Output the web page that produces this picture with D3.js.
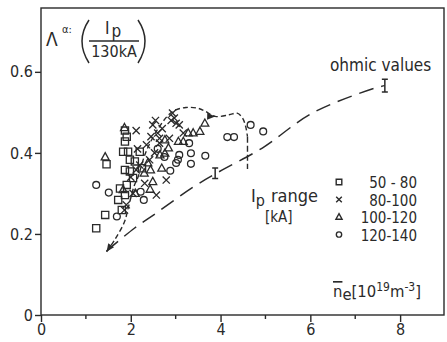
<!DOCTYPE html>
<html>
<head>
<meta charset="utf-8">
<script src="https://cdn.jsdelivr.net/npm/d3@7"></script>
<style>
  body { margin: 0; background: #fff; }
  svg { display: block; }
  text { font-family: "DejaVu Sans Condensed", "DejaVu Sans", sans-serif; fill: #2a2a2a; }
  .axis path, .axis line { stroke: #2a2a2a; stroke-width: 1.4; }
  .axis text { font-size: 16px; }
</style>
</head>
<body>
<svg width="447" height="342"></svg>
<script>
// Ip ranges [kA]
var ranges = ["50 - 80", "80-100", "100-120", "120-140"];

// points: [ne, lambda]
var sq = [[1.23,0.214],[1.43,0.247],[1.46,0.372],[1.72,0.284],[1.80,0.259],[1.87,0.296],[1.91,0.321],
          [1.87,0.358],[1.98,0.354],[1.98,0.383],[2.09,0.379],[1.83,0.403],[1.94,0.403],[2.20,0.403],
          [1.87,0.428],[1.91,0.440],[1.87,0.455],[1.76,0.312],[2.05,0.338],[2.25,0.362]];
var xs = [[2.12,0.455],[2.49,0.469],[2.55,0.480],[2.60,0.449],[2.64,0.436],[2.86,0.436],[2.93,0.498],
          [2.97,0.486],[2.90,0.480],[3.01,0.473],[3.08,0.469],[3.17,0.449],[2.64,0.424],[2.53,0.400],
          [2.42,0.383],[2.35,0.420],[2.45,0.440],[2.20,0.370],[2.12,0.358],[2.31,0.325],[2.57,0.296],
          [2.79,0.333],[1.90,0.272],[1.86,0.259],[2.05,0.300],[2.70,0.460],[2.15,0.410],[2.0,0.340]];
var tri = [[1.43,0.390],[1.86,0.462],[1.83,0.309],[2.38,0.375],[2.44,0.358],[2.49,0.329],[2.43,0.310],
           [2.69,0.362],[2.65,0.395],[2.76,0.399],[2.84,0.412],[3.06,0.428],[3.17,0.428],[3.28,0.449],
           [3.39,0.449],[3.54,0.453],[3.65,0.473],[2.76,0.432],[2.10,0.300],[2.30,0.350]];
var circ = [[1.23,0.321],[1.51,0.302],[1.69,0.243],[2.22,0.304],[2.29,0.284],[2.88,0.356],[3.01,0.375],
            [3.05,0.383],[3.08,0.395],[3.34,0.373],[3.34,0.399],[3.66,0.393],[3.30,0.424],[2.60,0.410],
            [2.75,0.390],[4.15,0.439],[4.30,0.439],[4.67,0.469],[4.95,0.453]];

// dashed trajectory through the data and the ohmic line
var traj = [[1.46,0.156],[1.64,0.185],[1.86,0.230],[1.94,0.263],[2.08,0.320],[2.16,0.340],[2.34,0.403],
            [2.64,0.465],[2.93,0.502],[3.23,0.512],[3.50,0.510],[3.67,0.502],[3.88,0.490],[4.19,0.494],
            [4.37,0.498],[4.49,0.486],[4.56,0.465],[4.60,0.440]];
var trajDrop = [[4.60,0.440],[4.60,0.360]];
var ohmic = [[1.46,0.158],[2.08,0.214],[2.56,0.251],[3.41,0.317],[4.04,0.358],[4.93,0.412],
             [6.04,0.498],[7.44,0.560],[7.66,0.566]];
var errBars = [[3.88,0.350,0.013],[7.66,0.566,0.016]];

var xTicks = [0, 2, 4, 6, 8], xMinor = [1, 3, 5, 7];
var yTicks = [0, 0.2, 0.4, 0.6];

var svg = d3.select("svg");
var x = d3.scaleLinear().domain([0, 9]).range([41, 445]);
var y = d3.scaleLinear().domain([0, 0.76]).range([315, 7]);
var ink = "#2a2a2a";

// frame
svg.append("rect").attr("x", 41).attr("y", 8).attr("width", 403).attr("height", 307)
   .attr("fill", "none").attr("stroke", ink).attr("stroke-width", 1.4);

var gx = svg.append("g").attr("class", "axis").attr("transform", "translate(0,315)")
   .call(d3.axisBottom(x).tickValues(xTicks).tickSize(7).tickPadding(2).tickFormat(d3.format("d")));
gx.select(".domain").remove();
svg.append("g").attr("transform", "translate(0,315)").selectAll("line").data(xMinor).enter()
   .append("line").attr("x1", x).attr("x2", x).attr("y1", 0).attr("y2", 4)
   .attr("stroke", ink).attr("stroke-width", 1.4);

var gy = svg.append("g").attr("class", "axis").attr("transform", "translate(41,0)")
   .call(d3.axisLeft(y).tickValues(yTicks).tickSize(6).tickPadding(2)
   .tickFormat(function(d) { return d === 0 ? "0" : d3.format(".1f")(d); }));
gy.select(".domain").remove();

// curves
var line = d3.line().x(function(d) { return x(d[0]); }).y(function(d) { return y(d[1]); })
             .curve(d3.curveCatmullRom);
svg.append("path").datum(traj).attr("d", line).attr("fill", "none").attr("stroke", ink)
   .attr("stroke-width", 1.4).attr("stroke-dasharray", "5,3");
svg.append("path").datum(trajDrop).attr("d", line).attr("fill", "none").attr("stroke", ink)
   .attr("stroke-width", 1.4).attr("stroke-dasharray", "6,3");
svg.append("path").datum(ohmic).attr("d", line).attr("fill", "none").attr("stroke", ink)
   .attr("stroke-width", 1.5).attr("stroke-dasharray", "15,8");

// arrow heads on the trajectory
function arrow(p, ang) {
  var px = x(p[0]), py = y(p[1]);
  svg.append("path").attr("d", "M0,0L-8,-3.5L-8,3.5Z").attr("fill", ink)
     .attr("transform", "translate(" + px + "," + py + ") rotate(" + ang + ")");
}
arrow(traj[12], 2);
arrow(traj[0], 125);

// error bars
errBars.forEach(function(e) {
  var px = x(e[0]), y0 = y(e[1] - e[2]), y1 = y(e[1] + e[2]);
  svg.append("path").attr("d", "M" + px + "," + y0 + "V" + y1 + "M" + (px - 3) + "," + y0 + "H" + (px + 3) +
     "M" + (px - 3) + "," + y1 + "H" + (px + 3)).attr("stroke", ink).attr("stroke-width", 1.5).attr("fill", "none");
});

// markers
function marker(kind, s) {
  if (kind === 0) return "M" + (-s) + "," + (-s) + "h" + 2 * s + "v" + 2 * s + "h" + (-2 * s) + "Z";
  if (kind === 1) return "M" + (-s) + "," + (-s) + "L" + s + "," + s + "M" + s + "," + (-s) + "L" + (-s) + "," + s;
  if (kind === 2) return "M0," + (-s * 1.2) + "L" + s * 1.1 + "," + s * 0.8 + "L" + (-s * 1.1) + "," + s * 0.8 + "Z";
  return d3.arc()({innerRadius: 0, outerRadius: s * 0.95, startAngle: 0, endAngle: 2 * Math.PI});
}
[sq, xs, tri, circ].forEach(function(series, k) {
  svg.append("g").selectAll("path").data(series).enter().append("path")
     .attr("d", marker(k, 3.6))
     .attr("transform", function(d) { return "translate(" + x(d[0]) + "," + y(d[1]) + ")"; })
     .attr("fill", "none").attr("stroke", ink).attr("stroke-width", 1.3);
});

// legend
var leg = svg.append("g");
ranges.forEach(function(r, i) {
  var ly = 182 + i * 17.5;
  leg.append("path").attr("d", marker(i, 2.8)).attr("transform", "translate(339," + ly + ")")
     .attr("fill", "none").attr("stroke", ink).attr("stroke-width", 1.4);
  leg.append("text").attr("x", 417).attr("y", ly + 6).attr("text-anchor", "end")
     .style("font-size", "15px").text(r);
});
var lt = leg.append("text").attr("x", 251).attr("y", 202).style("font-size", "18px");
lt.append("tspan").text("I");
lt.append("tspan").attr("dy", 4).style("font-size", "16px").text("p");
lt.append("tspan").attr("dy", -4).attr("dx", 6).text("range");
leg.append("text").attr("x", 265).attr("y", 222).style("font-size", "15px").text("[kA]");

svg.append("text").attr("x", 330).attr("y", 71).style("font-size", "17px").text("ohmic values");

// x label
var xl = svg.append("text").attr("x", 333).attr("y", 297).style("font-size", "16.5px");
xl.append("tspan").style("text-decoration", "overline").text("n");
xl.append("tspan").attr("dy", 3).text("e");
xl.append("tspan").attr("dy", -3).text("[10");
xl.append("tspan").attr("dy", -6).style("font-size", "12px").text("19");
xl.append("tspan").attr("dy", 6).text("m");
xl.append("tspan").attr("dy", -6).style("font-size", "12px").text("-3");
xl.append("tspan").attr("dy", 6).text("]");

// y label
svg.append("text").attr("x", 46).attr("y", 46).style("font-size", "19px").text("Λ");
svg.append("text").attr("x", 62).attr("y", 33).style("font-size", "11px").text("α:");
svg.append("path").attr("d", "M89,20Q75,41 89,63M138,20Q152,41 138,63")
   .attr("fill", "none").attr("stroke", ink).attr("stroke-width", 1.5);
var num = svg.append("text").attr("x", 105).attr("y", 34).style("font-size", "17px");
num.append("tspan").text("I");
num.append("tspan").attr("dy", 3).attr("dx", 2).text("p");
svg.append("line").attr("x1", 89).attr("x2", 139).attr("y1", 41).attr("y2", 41)
   .attr("stroke", ink).attr("stroke-width", 1.3);
svg.append("text").attr("x", 114).attr("y", 57).attr("text-anchor", "middle")
   .style("font-size", "16px").text("130kA");
</script>
</body>
</html>
